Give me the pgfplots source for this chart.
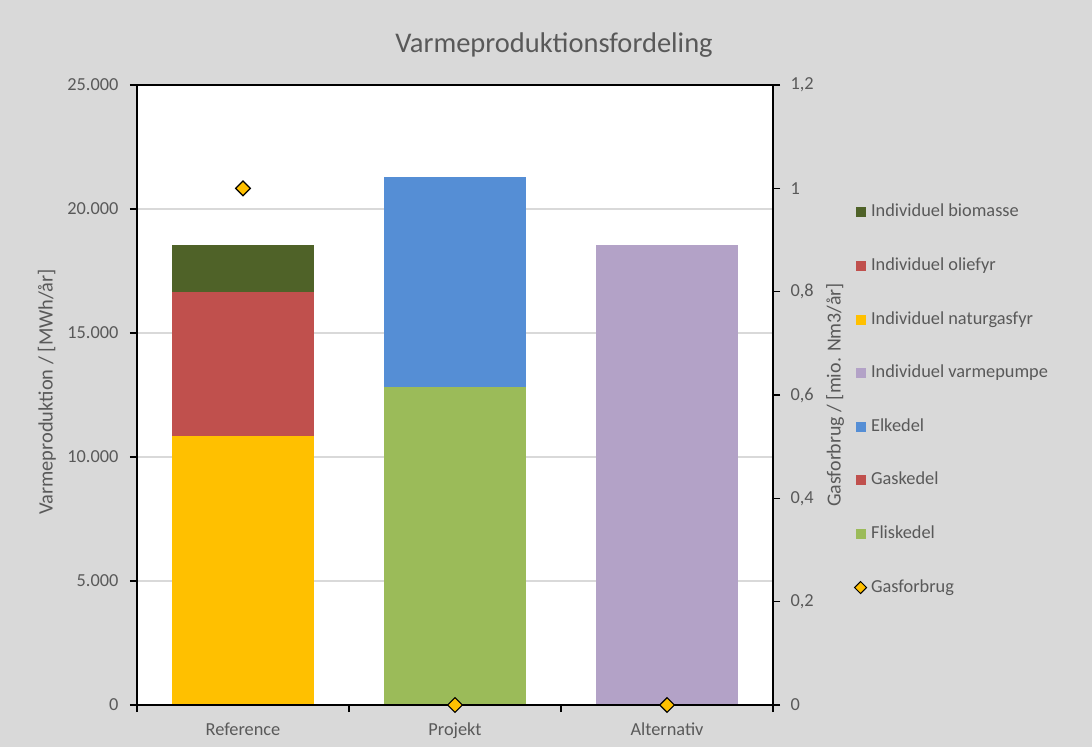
\documentclass[border=0pt]{standalone}
\usepackage{fontspec}
\setmainfont{Carlito}
\usepackage{pgfplots}
\pgfplotsset{compat=1.18}
\definecolor{bg}{HTML}{D9D9D9}
\definecolor{txt}{HTML}{595959}
\definecolor{cbio}{HTML}{4F6228}
\definecolor{colie}{HTML}{C0504D}
\definecolor{cgas}{HTML}{FFC000}
\definecolor{cvp}{HTML}{B3A2C7}
\definecolor{cel}{HTML}{558ED5}
\definecolor{cgk}{HTML}{C0504D}
\definecolor{cflis}{HTML}{9BBB59}
\definecolor{gridc}{HTML}{D9D9D9}
\begin{document}
\begin{tikzpicture}
\path[use as bounding box, fill=bg] (-137bp,-42bp) rectangle (955bp,705bp);
\node[font=\fontsize{28.6}{34}\selectfont, text=txt] at (417bp,660bp) {Varmeproduktionsfordeling};
\begin{axis}[
  scale only axis, width=636bp, height=620bp,
  axis background/.style={fill=white},
  xmin=-0.5, xmax=2.5, ymin=0, ymax=25000,
  ybar stacked, bar width=142bp,
  xtick={0,1,2}, xticklabels={Reference,Projekt,Alternativ},
  major x tick style={draw=none},
  minor xtick={-0.5,0.5,1.5,2.5},
  ytick={0,5000,10000,15000,20000,25000},
  scaled y ticks=false,
  yticklabel style={xshift=-8bp, /pgf/number format/1000 sep={.}, /pgf/number format/fixed},
  xticklabel style={yshift=-7bp},
  tick align=outside, tick pos=left,
  major tick length=7bp, minor tick length=7bp,
  ymajorgrids, grid style={gridc, line width=1.5bp},
  axis line style={line width=1.5bp, black},
  tick style={black, line width=1.5bp},
  tick label style={font=\fontsize{18.4}{22}\selectfont, text=txt},
  /pgf/number format/assume math mode=true,
  ylabel={Varmeproduktion / [MWh/år]},
  ylabel style={at={(axis description cs:-0.1415,0.505)}, anchor=center, font=\fontsize{20.5}{24}\selectfont, text=txt},
  legend image code/.code={\fill[#1] (0bp,-5bp) rectangle (10bp,5bp);},
  reverse legend,
  legend cell align=left,
  legend style={at={(1.1225,0.815)}, anchor=north west, draw=none, fill=none,
    font=\fontsize{18.4}{22}\selectfont, text=txt, row sep=32.6bp,
    nodes={inner sep=2bp, text height=13bp, text depth=4bp},
    /tikz/every odd column/.append style={column sep=2bp}},
]
\addlegendimage{legend image code/.code={\draw[black,line width=1bp,fill=cgas] (5bp,-6bp) -- (11bp,0bp) -- (5bp,6bp) -- (-1bp,0bp) -- cycle;}}
\addlegendentry{Gasforbrug}
\addplot[fill=cflis, draw=none] coordinates {(0,0) (1,12820) (2,0)};
\addlegendentry{Fliskedel}
\addplot[fill=cgk, draw=none] coordinates {(0,0) (1,0) (2,0)};
\addlegendentry{Gaskedel}
\addplot[fill=cel, draw=none] coordinates {(0,0) (1,8470) (2,0)};
\addlegendentry{Elkedel}
\addplot[fill=cvp, draw=none] coordinates {(0,0) (1,0) (2,18550)};
\addlegendentry{Individuel varmepumpe}
\addplot[fill=cgas, draw=none] coordinates {(0,10850) (1,0) (2,0)};
\addlegendentry{Individuel naturgasfyr}
\addplot[fill=colie, draw=none] coordinates {(0,5800) (1,0) (2,0)};
\addlegendentry{Individuel oliefyr}
\addplot[fill=cbio, draw=none] coordinates {(0,1900) (1,0) (2,0)};
\addlegendentry{Individuel biomasse}
\end{axis}
\begin{axis}[
  scale only axis, width=636bp, height=620bp,
  xmin=-0.5, xmax=2.5, ymin=0, ymax=1.2,
  axis y line*=right, axis x line*=bottom,
  xtick=\empty,
  ytick={0,0.2,0.4,0.6,0.8,1,1.2},
  yticklabel style={xshift=7bp, /pgf/number format/use comma, /pgf/number format/fixed},
  tick align=outside,
  major tick length=7bp,
  axis line style={line width=1.5bp, black, -},
  tick style={black, line width=1.5bp},
  tick label style={font=\fontsize{18.4}{22}\selectfont, text=txt},
  /pgf/number format/assume math mode=true,
  ylabel={Gasforbrug / [mio. Nm3/år]},
  ylabel style={at={(axis description cs:1.0975,0.5)}, anchor=center, rotate=0, font=\fontsize{20}{24}\selectfont, text=txt},
  clip=false,
]
\addplot[only marks, mark=square*, mark size=5.2bp, mark options={rotate=45, fill=cgas, draw=black, line width=1.2bp}] coordinates {(0,1) (1,0) (2,0)};
\end{axis}
\end{tikzpicture}
\end{document}
